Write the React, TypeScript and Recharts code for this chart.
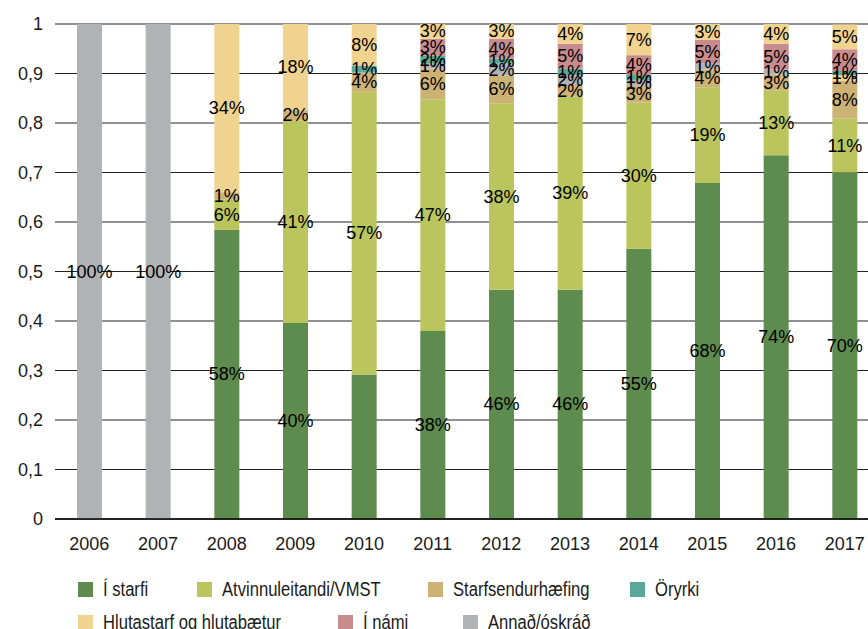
import React from 'react';
import { BarChart, Bar, XAxis, YAxis, CartesianGrid, LabelList, Legend, Cell } from 'recharts';

// ---------- data ----------
const years = ['2006', '2007', '2008', '2009', '2010', '2011', '2012', '2013', '2014', '2015', '2016', '2017'];
const iStarfi = [0, 0, 0.584, 0.396, 0.292, 0.38, 0.463, 0.463, 0.546, 0.679, 0.735, 0.7];
const atvinnuleitandi = [0, 0, 0.062, 0.409, 0.571, 0.468, 0.377, 0.39, 0.295, 0.193, 0.13, 0.109];
const starfsendurhaefing = [0, 0, 0.014, 0.021, 0.039, 0.062, 0.056, 0.024, 0.034, 0.036, 0.033, 0.076];
const annad = [1, 1, 0, 0, 0, 0.01, 0.024, 0.02, 0.012, 0.012, 0.01, 0.012];
const oryrki = [0, 0, 0, 0, 0.014, 0.016, 0.01, 0.013, 0.01, 0, 0, 0.008];
const iNami = [0, 0, 0, 0, 0, 0.034, 0.04, 0.05, 0.04, 0.048, 0.052, 0.044];
const hlutastarf = [0, 0, 0.34, 0.176, 0.084, 0.03, 0.03, 0.04, 0.066, 0.034, 0.04, 0.05];
const yTicks = [0, 0.1, 0.2, 0.3, 0.4, 0.5, 0.6, 0.7, 0.8, 0.9, 1];

const seriesKeys = ['iStarfi', 'atvinnuleitandi', 'starfsendurhaefing', 'annad', 'oryrki', 'iNami', 'hlutastarf'];
const seriesNames: Record<string, string> = {
  iStarfi: 'Í starfi',
  atvinnuleitandi: 'Atvinnuleitandi/VMST',
  starfsendurhaefing: 'Starfsendurhæfing',
  oryrki: 'Öryrki',
  hlutastarf: 'Hlutastarf og hlutabætur',
  iNami: 'Í námi',
  annad: 'Annað/óskráð',
};
// labels that are not shown in the original
const hiddenLabels = [{ series: 'iStarfi', year: '2010' }];

// ---------- styles ----------
const seriesColors: Record<string, string> = {
  iStarfi: '#5e8b4e',
  atvinnuleitandi: '#bac55e',
  starfsendurhaefing: '#cdb275',
  oryrki: '#5aa898',
  hlutastarf: '#f0d38e',
  iNami: '#c98c8e',
  annad: '#b1b2b4',
};
const cellOverrides = [{ series: 'annad', year: '2017', color: '#f0d38e' }];

const legendLayout = [
  { key: 'iStarfi', x: 78, row: 0 },
  { key: 'atvinnuleitandi', x: 197, row: 0 },
  { key: 'starfsendurhaefing', x: 428, row: 0 },
  { key: 'oryrki', x: 630, row: 0 },
  { key: 'hlutastarf', x: 78, row: 1 },
  { key: 'iNami', x: 338, row: 1 },
  { key: 'annad', x: 463, row: 1 },
];

const seriesData: Record<string, number[]> = {
  iStarfi, atvinnuleitandi, starfsendurhaefing, annad, oryrki, iNami, hlutastarf,
};

const data = years.map((year, i) => {
  const row: Record<string, any> = { year };
  seriesKeys.forEach((k) => { row[k] = seriesData[k][i]; });
  return row;
});

const FONT = '"Liberation Sans", Arial, sans-serif';

const makeAccessor = (key: string) => (entry: any, index: number) => {
  const p = entry && entry.payload;
  const yr = p && p.year != null ? p.year : years[index];
  const v = p && p[key] != null ? p[key] : seriesData[key][years.indexOf(yr)];
  return yr + '|' + v;
};

const makeLabel = (key: string) => (props: any) => {
  const vb = props.viewBox || {};
  const x = props.x ?? vb.x;
  const y = props.y ?? vb.y;
  const width = props.width ?? vb.width;
  const height = props.height ?? vb.height;
  const parts = String(props.value).split('|');
  const year = parts[0];
  const value = Number(parts[1]);
  if (!value || value <= 0 || x == null || y == null) return null;
  if (hiddenLabels.some((h) => h.series === key && h.year === year)) return null;
  return (
    <text
      x={x + width / 2}
      y={y + height / 2}
      textAnchor="middle"
      dominantBaseline="central"
      fontSize={18}
      fontFamily={FONT}
      fill="#000"
    >
      {Math.round(value * 100)}%
    </text>
  );
};

const renderLegend = () => (
  <div style={{ position: 'relative', width: 868, height: 55, fontFamily: FONT }}>
    {legendLayout.map((item) => {
      const cy = item.row === 0 ? 15 : 48;
      return (
        <div key={item.key}>
          <div
            style={{
              position: 'absolute',
              left: item.x,
              top: cy - 7.5,
              width: 15,
              height: 15,
              background: seriesColors[item.key],
            }}
          />
          <div
            style={{
              position: 'absolute',
              left: item.x + 25,
              top: cy - 12,
              height: 24,
              lineHeight: '24px',
              fontSize: 20,
              color: '#1a1a1a',
              whiteSpace: 'nowrap',
              transform: 'scaleX(0.83)',
              transformOrigin: 'left center',
            }}
          >
            {seriesNames[item.key]}
          </div>
        </div>
      );
    })}
  </div>
);

export default function App() {
  return (
    <div style={{ position: 'absolute', left: 0, top: 0, width: 868, height: 629, overflow: 'hidden', background: '#fff', fontFamily: FONT }}>
      <BarChart
        width={879}
        height={629}
        data={data}
        margin={{ top: 24, right: 0, bottom: 70, left: 0 }}
        barSize={25}
      >
        <CartesianGrid vertical={false} stroke="#222" strokeWidth={1} />
        <XAxis
          dataKey="year"
          tickLine={false}
          tickSize={0}
          tickMargin={18}
          height={40}
          axisLine={{ stroke: '#000', strokeWidth: 1.5 }}
          tick={{ fontSize: 18, fill: '#1a1a1a', fontFamily: FONT }}
          interval={0}
        />
        <XAxis xAxisId="lab" dataKey="year" hide />
        <YAxis
          width={55}
          domain={[0, 1]}
          allowDataOverflow
          ticks={yTicks}
          tickLine={false}
          tickSize={0}
          tickMargin={12}
          axisLine={false}
          tick={{ fontSize: 18, fill: '#1a1a1a', fontFamily: FONT }}
          tickFormatter={(v: number) => String(v).replace('.', ',')}
        />
        {seriesKeys.map((k) => (
          <Bar key={k} dataKey={k} name={seriesNames[k]} stackId="a" fill={seriesColors[k]} isAnimationActive={false}>
            {years.map((yr) => {
              const o = cellOverrides.find((c) => c.series === k && c.year === yr);
              return <Cell key={yr} fill={o ? o.color : seriesColors[k]} />;
            })}
          </Bar>
        ))}
        {seriesKeys.map((k) => (
          <Bar
            key={'lab-' + k}
            xAxisId="lab"
            dataKey={k}
            stackId="b"
            fill="transparent"
            legendType="none"
            isAnimationActive={false}
          >
            <LabelList valueAccessor={makeAccessor(k)} content={makeLabel(k)} />
          </Bar>
        ))}
        <Legend
          verticalAlign="middle"
          align="center"
          layout="horizontal"
          wrapperStyle={{ position: 'absolute', top: 574, left: 0, width: 868, height: 55 }}
          content={renderLegend}
        />
      </BarChart>
    </div>
  );
}
